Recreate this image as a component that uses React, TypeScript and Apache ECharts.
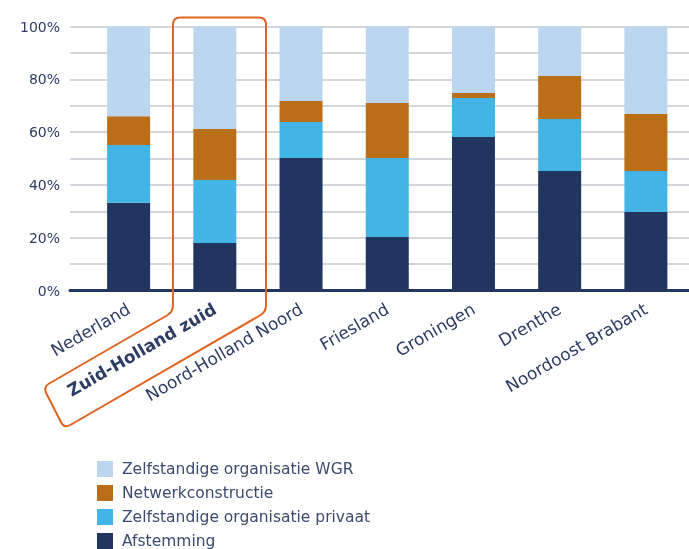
import React, { useEffect, useRef } from "react";
import * as echarts from "echarts";

const categories = [
  "Nederland",
  "Zuid-Holland zuid",
  "Noord-Holland Noord",
  "Friesland",
  "Groningen",
  "Drenthe",
  "Noordoost Brabant",
];
const afstemming = [33.3, 18.0, 50.2, 20.3, 58.2, 45.3, 29.8];
const privaat = [21.9, 23.9, 13.7, 29.9, 14.8, 19.7, 15.5];
const netwerk = [10.9, 19.3, 7.9, 20.9, 1.9, 16.3, 21.6];
const wgr = [33.9, 38.8, 28.2, 28.9, 25.1, 18.7, 33.1];
const legendOrder = [
  "Zelfstandige organisatie WGR",
  "Netwerkconstructie",
  "Zelfstandige organisatie privaat",
  "Afstemming",
];
const highlighted = "Zuid-Holland zuid";

const FONT = "'DejaVu Sans', sans-serif";
const TEXT = "#2c3c63";

function roundedPath(pts: number[][], r: number): string {
  const n = pts.length;
  let d = "";
  for (let i = 0; i < n; i++) {
    const p = pts[i];
    const prev = pts[(i - 1 + n) % n];
    const next = pts[(i + 1) % n];
    const v1 = [prev[0] - p[0], prev[1] - p[1]];
    const v2 = [next[0] - p[0], next[1] - p[1]];
    const l1 = Math.hypot(v1[0], v1[1]);
    const l2 = Math.hypot(v2[0], v2[1]);
    const a = [p[0] + (v1[0] / l1) * r, p[1] + (v1[1] / l1) * r];
    const b = [p[0] + (v2[0] / l2) * r, p[1] + (v2[1] / l2) * r];
    d += (i === 0 ? "M" : "L") + a[0].toFixed(2) + " " + a[1].toFixed(2);
    d += "Q" + p[0] + " " + p[1] + " " + b[0].toFixed(2) + " " + b[1].toFixed(2);
  }
  return d + "Z";
}

export default function App() {
  const ref = useRef<HTMLDivElement>(null);
  useEffect(() => {
    if (!ref.current) return;
    const c30 = Math.cos(Math.PI / 6);
    const s30 = Math.sin(Math.PI / 6);
    const L = 150;
    const R = 233;
    const boxPts = [
      [173, 17.5],
      [266, 17.5],
      [266, 312],
      [266 - R * c30, 312 + R * s30],
      [173 - L * c30, 312 + L * s30],
      [173, 312],
    ];
    echarts.graphic.registerShape(
      "hlbox",
      echarts.graphic.extendPath(roundedPath(boxPts, 7), {})
    );
    const chart = echarts.init(ref.current, undefined, { renderer: "svg" });
    const mk = (name: string, data: number[], color: string) => ({
      name,
      type: "bar",
      stack: "total",
      xAxisIndex: 1,
      yAxisIndex: 1,
      barWidth: 43,
      itemStyle: { color },
      data,
    });
    chart.setOption({
      animation: false,
      textStyle: { fontFamily: FONT },
      grid: [
        { left: 70, right: 0, top: 26.7, bottom: 258.5 },
        { left: 85.5, width: 632, top: 26.7, bottom: 258.5 },
      ],
      xAxis: [
        {
          type: "category",
          gridIndex: 0,
          data: categories,
          axisLine: { show: true, lineStyle: { color: "#22365f", width: 3 } },
          axisTick: { show: false },
          axisLabel: { show: false },
          splitLine: { show: false },
          z: 5,
        },
        {
          type: "category",
          gridIndex: 1,
          data: categories,
          axisLine: { show: false },
          axisTick: { show: false },
          axisLabel: {
            rotate: 30,
            margin: 17,
            fontSize: 17,
            color: TEXT,
            fontFamily: FONT,
            formatter: (v: string) => (v === highlighted ? "{b|" + v + "}" : v),
            rich: {
              b: { fontWeight: "bold", fontSize: 17, color: TEXT, fontFamily: FONT },
            },
          },
        },
      ],
      yAxis: [
        {
          type: "value",
          gridIndex: 0,
          min: 0,
          max: 100,
          interval: 10,
          axisLine: { show: false },
          axisTick: { show: false },
          axisLabel: {
            margin: 10,
            fontSize: 14,
            color: TEXT,
            fontFamily: FONT,
            padding: [0, 0, 7, 0],
            formatter: (v: number) => (v % 20 === 0 ? v + "%" : ""),
          },
          splitLine: { show: true, lineStyle: { color: "#c3c7cc", width: 1.5 } },
        },
        {
          type: "value",
          gridIndex: 1,
          min: 0,
          max: 100,
          show: false,
          splitLine: { show: false },
        },
      ],
      legend: {
        orient: "vertical",
        left: 97,
        top: 461,
        height: 120,
        padding: 0,
        itemWidth: 16,
        itemHeight: 16,
        itemGap: 8,
        icon: "rect",
        data: legendOrder,
        textStyle: { fontSize: 15.5, color: "#3b4a6d", fontFamily: FONT, padding: [0, 0, 0, 4] },
      },
      graphic: [
        {
          type: "hlbox",
          x: 0,
          y: 0,
          z: 100,
          style: { fill: "none", stroke: "#e0621f", lineWidth: 2 },
        },
      ],
      series: [
        mk("Afstemming", afstemming, "#21355f"),
        mk("Zelfstandige organisatie privaat", privaat, "#42b4e5"),
        mk("Netwerkconstructie", netwerk, "#b96e17"),
        mk("Zelfstandige organisatie WGR", wgr, "#bcd6f0"),
      ],
    });
    return () => chart.dispose();
  }, []);
  return (
    <div
      ref={ref}
      style={{ position: "fixed", left: 0, top: 0, width: 689, height: 549 }}
    />
  );
}
